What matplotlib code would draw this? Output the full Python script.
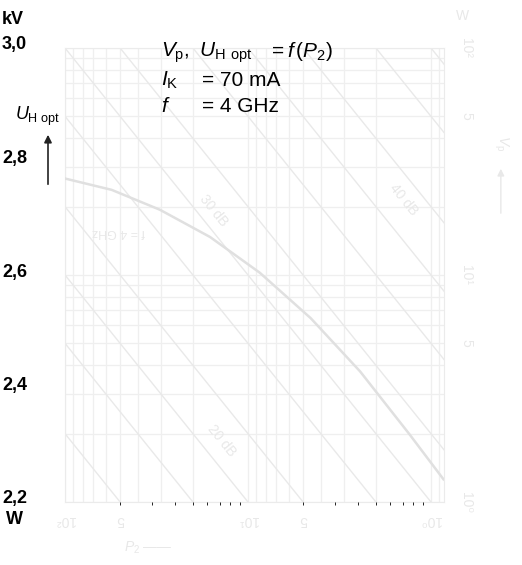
import numpy as np
import matplotlib
matplotlib.use('Agg')
import matplotlib.pyplot as plt
from matplotlib.transforms import blended_transform_factory, offset_copy

plt.rcParams['font.family'] = ['Liberation Sans', 'DejaVu Sans']
plt.rcParams['mathtext.fontset'] = 'custom'
plt.rcParams['mathtext.rm'] = 'Liberation Sans'
plt.rcParams['mathtext.it'] = 'Liberation Sans:italic'

#---------------- front chart: U_H opt = f(P2)
p2_w = [1.0, 1.8, 3.3, 6.2, 11.6, 22, 41, 76, 117]
uh_kv = [2.77, 2.75, 2.715, 2.667, 2.604, 2.524, 2.43, 2.32, 2.24]
kv_ticks = [2.2, 2.4, 2.6, 2.8, 3.0]
kv_labels = ['2,2', '2,4', '2,6', '2,8', '3,0']

#---------------- show-through of the back page (faint log-log sheet)
back_xticks = [100, 50, 10, 5, 1]
back_xlabels = ['10²', '5', '10¹', '5', '10⁰']
back_yticks = [100, 50, 10, 5, 1]
back_ylabels = ['10²', '5', '10¹', '5', '10⁰']
gain_k = [0.01, 0.02, 0.05, 0.1, 0.2, 0.5, 1, 2, 5, 10, 20, 50, 100]
gain_labels = ['20 dB', '30 dB', '40 dB']
gain_label_x = [13.9, 15.5, 1.42]
gain_label_y = [1.87, 19.3, 21.4]

GHOST = '#e8e8e8'
W, H = 522, 565

fig = plt.figure(figsize=(W / 100, H / 100), dpi=100)
rect = [65 / W, 1 - 502 / H, 379 / W, 454 / H]

#------------- back sheet
axb = fig.add_axes(rect)
axb.set_xscale('log')
axb.set_yscale('log')
axb.set_xlim(100, 0.849)
axb.set_ylim(1, 100)
axb.grid(which='both', color='#efefef', lw=0.9)
for s in axb.spines.values():
    s.set_color('#ebebeb')
axb.tick_params(which='both', length=0, labelbottom=False, labelleft=False)

xx = np.logspace(-1, 2.2, 50)
for k in gain_k:
    axb.plot(xx, k * xx, color='#e9e9e9', lw=1.0)

for lab, gx, gy in zip(gain_labels, gain_label_x, gain_label_y):
    axb.text(gx, gy, lab, color=GHOST, fontsize=10, rotation=-51,
             ha='center', va='center', rotation_mode='anchor')

bx = axb.get_xaxis_transform()
for v, lab in zip(back_xticks, back_xlabels):
    axb.text(v, -0.04, lab, transform=bx, color=GHOST, fontsize=10,
             rotation=180, ha='center', va='center')
by = axb.get_yaxis_transform()
for v, lab in zip(back_yticks, back_ylabels):
    axb.text(1.058, v, lab, transform=by, color=GHOST, fontsize=10,
             rotation=-90, ha='center', va='center')
axb.annotate('', xy=(1.15, 0.74), xytext=(1.15, 0.63), xycoords='axes fraction',
             arrowprops=dict(arrowstyle='-|>', color=GHOST, lw=1.0))
axb.text(1.15, 0.79, '$V_\\mathrm{p}$', transform=axb.transAxes, color=GHOST,
         fontsize=10, rotation=-90, ha='center', va='center')
axb.text(1.05, 1.07, 'W', transform=axb.transAxes, color=GHOST, fontsize=10,
         ha='center', va='center')
axb.text(0.22, -0.10, '$P_2$ ——', transform=axb.transAxes, color=GHOST,
         fontsize=10, ha='center', va='center')
axb.text(0.14, 0.595, 'f = 4 GHz', transform=axb.transAxes, color=GHOST,
         fontsize=9, rotation=180, ha='center', va='center')

#------------- front chart
ax = fig.add_axes(rect)
ax.patch.set_alpha(0)
ax.set_xscale('log')
ax.set_xlim(1, 10 ** (379 / 183))
ax.set_ylim(2.2, 3.0)
ax.plot(p2_w, uh_kv, color='#e0e0e0', lw=1.8)
for s in ax.spines.values():
    s.set_visible(False)
ax.set_xticks([])
ax.set_yticks([])

lab_tr = offset_copy(blended_transform_factory(fig.transFigure, ax.transData),
                     fig=fig, y=3, units='dots')
for v, lab in zip(kv_ticks, kv_labels):
    ax.text(2 / W, v, lab, transform=lab_tr, fontsize=13, va='center',
            family=['Liberation Sans Narrow', 'Liberation Sans'], weight='bold')

fig.text(2 / W, 1 - 20 / H, 'kV', fontsize=13, va='center',
         family=['Liberation Sans Narrow', 'Liberation Sans'], weight='bold')
fig.text(6 / W, 1 - 520 / H, 'W', fontsize=13, va='center',
         family=['Liberation Sans Narrow', 'Liberation Sans'], weight='bold')
fig.text(15 / W, 1 - 116 / H, r'$U_\mathrm{H\ opt}$', fontsize=13, va='center')
ax.annotate('', xy=(48 / W, 1 - 132 / H), xytext=(48 / W, 1 - 187 / H),
            xycoords='figure fraction',
            arrowprops=dict(arrowstyle='-|>', color='#222222', lw=1.2, mutation_scale=11))

fs = 15
fig.text(161 / W, 1 - 57 / H, r'$V_\mathrm{p}$,', fontsize=fs, va='baseline')
fig.text(199 / W, 1 - 57 / H, r'$U_\mathrm{H\ \,opt}$', fontsize=fs, va='baseline')
fig.text(268 / W, 1 - 57 / H, r'$=f\,(P_2)$', fontsize=fs, va='baseline')
fig.text(161 / W, 1 - 86 / H, r'$I_\mathrm{K}$', fontsize=fs, va='baseline')
fig.text(202 / W, 1 - 86 / H, '= 70 mA', fontsize=fs, va='baseline')
fig.text(161 / W, 1 - 112 / H, r'$f$', fontsize=fs, va='baseline')
fig.text(202 / W, 1 - 112 / H, '= 4 GHz', fontsize=fs, va='baseline')

fig.savefig('out.png', dpi=100)
